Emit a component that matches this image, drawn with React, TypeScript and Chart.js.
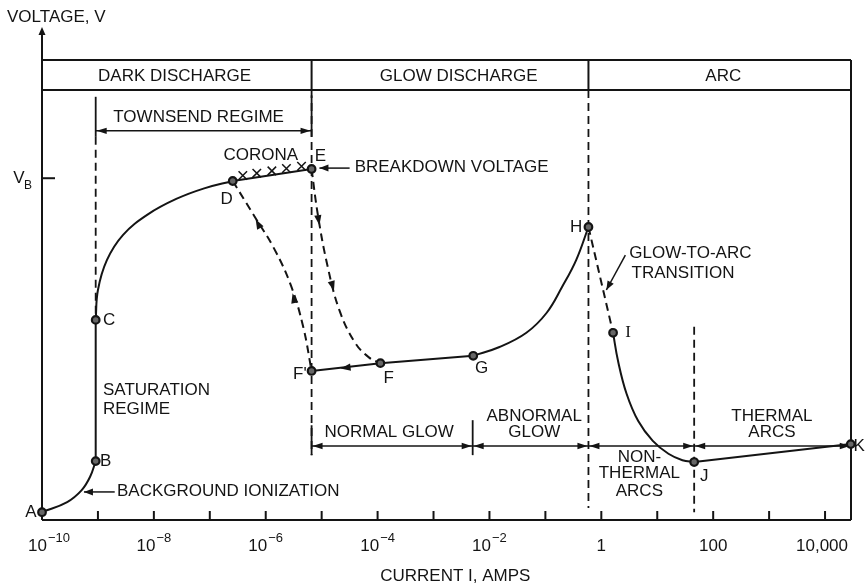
import React, { useEffect, useRef } from 'react';
import { Chart, registerables } from 'chart.js';

Chart.register(...registerables);

const INK = '#141414';
const FONT = '17px "Liberation Sans", Arial, sans-serif';
const SERIF_FONT = '17px "Liberation Serif", serif';
const EXP_FONT = '13px "Liberation Sans", Arial, sans-serif';
const SUB_FONT = '12px "Liberation Sans", Arial, sans-serif';

// x: log10(current I, amps); y: voltage in arbitrary units (0..100)
const LOG_I_MIN = -10;
const LOG_I_MAX = 4.464;
const V_MAX = 100;
const V_B = 74.3;
const HEADER_V = 93.5;

const TICK_DECADES = [-9, -8, -7, -6, -5, -4, -3, -2, -1, 0, 1, 2, 3, 4];
const LABEL_DECADES = [-10, -8, -6, -4, -2, 0, 2, 4];
const LABEL_BASES = ['10', '10', '10', '10', '10', '1', '100', '10,000'];
const LABEL_EXPONENTS = ['\u221210', '\u22128', '\u22126', '\u22124', '\u22122', '', '', ''];

// Header regions
const HEADER_NAMES = ['DARK DISCHARGE', 'GLOW DISCHARGE', 'ARC'];
const HEADER_BOUNDS = [-5.18, -0.23];
const HEADER_TEXT_LOG_I = [-7.63, -2.55, 2.18];
const HEADER_TEXT_V = 96.5;

// Named points
const POINT_NAMES = ['A', 'B', 'C', 'D', 'E', "F'", 'F', 'G', 'H', 'I', 'J', 'K'];
const POINT_LOG_I = [-10, -9.04, -9.04, -6.59, -5.18, -5.18, -3.95, -2.29, -0.23, 0.21, 1.66, 4.46];
const POINT_V = [1.7, 12.8, 43.5, 73.7, 76.3, 32.4, 34.1, 35.7, 63.7, 40.7, 12.6, 16.5];
const POINT_LABEL_LOG_I = [-10.2, -8.86, -8.8, -6.7, -5.02, -5.39, -3.8, -2.14, -0.45, 0.48, 1.84, 4.61];
const POINT_LABEL_V = [1.7, 12.8, 43.5, 69.8, 79.1, 31.7, 30.9, 33.0, 63.7, 40.7, 9.4, 16.1];

// Curve segments
const AB_LOG_I = [-10, -9.55, -9.29, -9.14, -9.04];
const AB_V = [1.7, 3.9, 6.5, 9.4, 12.8];
const BC_LOG_I = [-9.04, -9.04];
const BC_V = [12.8, 43.5];
const CD_LOG_I = [-9.04, -9.0, -8.84, -8.55, -8.1, -7.6, -7.1, -6.59];
const CD_V = [43.5, 50.0, 56.5, 62.0, 66.5, 69.8, 72.1, 73.7];
const DE_LOG_I = [-6.59, -5.18];
const DE_V = [73.7, 76.3];
const CORONA_LOG_I = [-6.41, -6.16, -5.89, -5.63, -5.36];
const CORONA_V = [74.9, 75.4, 75.9, 76.4, 76.9];
const EF_LOG_I = [-5.18, -5.07, -4.9, -4.68, -4.4, -4.15, -3.95];
const EF_V = [76.3, 66.5, 55.5, 45.5, 38.5, 35.3, 34.1];
const DFP_LOG_I = [-6.59, -6.2, -5.85, -5.55, -5.33, -5.18];
const DFP_V = [73.7, 66.0, 59.0, 51.0, 42.0, 32.4];
const FPG_LOG_I = [-5.18, -3.95, -2.29];
const FPG_V = [32.4, 34.1, 35.7];
const GH_LOG_I = [-2.29, -1.82, -1.34, -0.98, -0.7, -0.45, -0.23];
const GH_V = [35.7, 37.6, 40.7, 45.0, 50.7, 56.5, 63.7];
const HI_LOG_I = [-0.23, 0.21];
const HI_V = [63.7, 40.7];
const IJ_LOG_I = [0.21, 0.3, 0.45, 0.66, 0.92, 1.2, 1.45, 1.66];
const IJ_V = [40.7, 34.5, 27.5, 21.5, 17.2, 14.4, 13.0, 12.6];
const JK_LOG_I = [1.66, 4.46];
const JK_V = [12.6, 16.5];

// Guides: [logI, vTop, vBottom]
const DASHED_VERTICALS = [
  [-9.04, 83.3, 43.5],
  [-5.18, HEADER_V, 14.1],
  [-0.23, HEADER_V, 2.6],
  [1.66, 42.0, 1.7],
];
const SOLID_VERTICALS = [
  [-9.04, 92.0, 83.3],
  [-5.18, 92.3, 83.3],
  [-5.18, 20.6, 14.1],
  [-2.3, 21.7, 14.1],
];

// Dimension lines
const TOWNSEND_V = 84.6;
const TOWNSEND_BOUNDS = [-9.04, -5.18];
const REGIME_V = 16.1;
const REGIME_BOUNDS = [-5.18, -2.3, -0.23, 1.66, 4.46];

// Arrows along curves / leaders: [fromLogI, fromV, toLogI, toV]
const CURVE_ARROWS = [
  [-5.1, 68.5, -5.04, 64.1],
  [-4.86, 53.2, -4.78, 49.8],
  [-5.45, 45.6, -5.52, 49.3],
  [-6.05, 62.4, -6.18, 65.4],
  [-4.464, 33.26, -4.661, 32.93],
];
const LEADERS = [
  [-8.7, 6.1, -9.25, 6.1],
  [-4.5, 76.5, -5.04, 76.5],
  [0.43, 57.6, 0.09, 50.0],
];

// Free text: [text, logI, v, align]
const TEXTS: [string, number, number, CanvasTextAlign][] = [
  ['TOWNSEND REGIME', -7.2, 87.6, 'center'],
  ['CORONA', -6.09, 79.35, 'center'],
  ['BREAKDOWN VOLTAGE', -4.41, 76.7, 'left'],
  ['SATURATION', -8.91, 28.3, 'left'],
  ['REGIME', -8.91, 24.1, 'left'],
  ['BACKGROUND IONIZATION', -8.66, 6.3, 'left'],
  ['NORMAL GLOW', -4.95, 19.1, 'left'],
  ['ABNORMAL', -1.2, 22.6, 'center'],
  ['GLOW', -1.2, 19.1, 'center'],
  ['THERMAL', 3.05, 22.6, 'center'],
  ['ARCS', 3.05, 19.1, 'center'],
  ['NON-', 0.68, 13.7, 'center'],
  ['THERMAL', 0.68, 10.2, 'center'],
  ['ARCS', 0.68, 6.3, 'center'],
  ['GLOW-TO-ARC', 0.5, 57.9, 'left'],
  ['TRANSITION', 0.54, 53.6, 'left'],
];

const amps = (lx: number) => Math.pow(10, lx);
const pts = (lxs: number[], vs: number[]) => lxs.map((lx, i) => ({ x: amps(lx), y: vs[i] }));

function seg(ctx: CanvasRenderingContext2D, x1: number, y1: number, x2: number, y2: number) {
  ctx.beginPath();
  ctx.moveTo(x1, y1);
  ctx.lineTo(x2, y2);
  ctx.stroke();
}

function head(ctx: CanvasRenderingContext2D, fx: number, fy: number, tx: number, ty: number, len = 9, half = 3.5) {
  const a = Math.atan2(ty - fy, tx - fx);
  const c = Math.cos(a);
  const s = Math.sin(a);
  ctx.beginPath();
  ctx.moveTo(tx, ty);
  ctx.lineTo(tx - len * c + half * s, ty - len * s - half * c);
  ctx.lineTo(tx - len * c - half * s, ty - len * s + half * c);
  ctx.closePath();
  ctx.fill();
}

const overlay = {
  id: 'overlay',
  beforeDatasetsDraw(chart: any) {
    const { ctx, chartArea: a } = chart;
    const X = (lx: number) => chart.scales.x.getPixelForValue(amps(lx));
    const Y = (v: number) => chart.scales.y.getPixelForValue(v);
    ctx.save();
    ctx.strokeStyle = INK;
    ctx.fillStyle = INK;
    ctx.lineWidth = 2;
    // frame and axes
    seg(ctx, a.left, a.bottom, a.right, a.bottom);
    seg(ctx, a.left, a.bottom, a.left, a.top - 28);
    head(ctx, a.left, a.top, a.left, a.top - 33, 8, 3.5);
    seg(ctx, a.left, a.top, a.right, a.top);
    seg(ctx, a.right, a.top, a.right, a.bottom);
    seg(ctx, a.left, Y(HEADER_V), a.right, Y(HEADER_V));
    HEADER_BOUNDS.forEach((b) => seg(ctx, X(b), a.top, X(b), Y(HEADER_V)));
    // x ticks (inside)
    TICK_DECADES.forEach((k) => seg(ctx, X(k), a.bottom, X(k), a.bottom - 9));
    // V_B tick
    seg(ctx, a.left, Y(V_B), a.left + 13, Y(V_B));
    // dashed guides
    ctx.lineWidth = 1.8;
    ctx.setLineDash([8, 5]);
    DASHED_VERTICALS.forEach(([lx, t, b]) => seg(ctx, X(lx), Y(t), X(lx), Y(b)));
    ctx.setLineDash([]);
    SOLID_VERTICALS.forEach(([lx, t, b]) => seg(ctx, X(lx), Y(t), X(lx), Y(b)));
    // dimension lines
    ctx.lineWidth = 1.5;
    const dim = (bounds: number[], v: number) => {
      seg(ctx, X(bounds[0]), Y(v), X(bounds[bounds.length - 1]), Y(v));
      for (let i = 0; i < bounds.length - 1; i++) {
        const l = X(bounds[i]);
        const r = X(bounds[i + 1]);
        head(ctx, l + 12, Y(v), l + 1, Y(v), 10, 3.2);
        head(ctx, r - 12, Y(v), r - 1, Y(v), 10, 3.2);
      }
    };
    dim(TOWNSEND_BOUNDS, TOWNSEND_V);
    dim(REGIME_BOUNDS, REGIME_V);
    // leaders
    LEADERS.forEach(([fl, fv, tl, tv]) => {
      seg(ctx, X(fl), Y(fv), X(tl), Y(tv));
      head(ctx, X(fl), Y(fv), X(tl), Y(tv), 9, 3.5);
    });
    ctx.restore();
  },
  afterDatasetsDraw(chart: any) {
    const { ctx, chartArea: a } = chart;
    const X = (lx: number) => chart.scales.x.getPixelForValue(amps(lx));
    const Y = (v: number) => chart.scales.y.getPixelForValue(v);
    ctx.save();
    ctx.fillStyle = INK;
    CURVE_ARROWS.forEach(([fl, fv, tl, tv]) => head(ctx, X(fl), Y(fv), X(tl), Y(tv), 10, 3.6));
    ctx.textBaseline = 'middle';
    const txt = (s: string, x: number, y: number, align: CanvasTextAlign, font = FONT) => {
      ctx.font = font;
      ctx.textAlign = align;
      ctx.fillText(s, x, y);
    };
    HEADER_NAMES.forEach((n, i) => txt(n, X(HEADER_TEXT_LOG_I[i]), Y(HEADER_TEXT_V), 'center'));
    POINT_NAMES.forEach((n, i) =>
      txt(n, X(POINT_LABEL_LOG_I[i]), Y(POINT_LABEL_V[i]), 'center', n === 'I' ? SERIF_FONT : FONT)
    );
    TEXTS.forEach(([s, lx, v, al]) => txt(s, X(lx), Y(v), al));
    // y axis
    txt('VOLTAGE, V', a.left - 35, a.top - 43, 'left');
    txt('V', a.left - 23, Y(V_B), 'center');
    txt('B', a.left - 14, Y(V_B) + 7, 'center', SUB_FONT);
    // x tick labels
    LABEL_DECADES.forEach((k, i) => {
      ctx.font = FONT;
      const wb = ctx.measureText(LABEL_BASES[i]).width;
      ctx.font = EXP_FONT;
      const we = LABEL_EXPONENTS[i] ? ctx.measureText(LABEL_EXPONENTS[i]).width + 1 : 0;
      let x0 = X(k) - (wb + we) / 2;
      if (x0 < a.left - 14) x0 = a.left - 14;
      if (x0 + wb + we > a.right - 3) x0 = a.right - 3 - wb - we;
      txt(LABEL_BASES[i], x0, a.bottom + 26, 'left');
      if (we) txt(LABEL_EXPONENTS[i], x0 + wb + 1, a.bottom + 18, 'left', EXP_FONT);
    });
    txt('CURRENT I, AMPS', X(-2.61), a.bottom + 56, 'center');
    ctx.restore();
  },
};

const line = (data: any[], dashed = false, curved = true) => ({
  data,
  borderColor: INK,
  borderWidth: 2,
  borderDash: dashed ? [8, 5] : [],
  pointRadius: 0,
  fill: false,
  tension: curved ? 0.4 : 0,
  cubicInterpolationMode: 'default',
  order: 2,
  clip: false,
});

export default function App() {
  const ref = useRef<HTMLCanvasElement>(null);
  useEffect(() => {
    document.body.style.margin = '0';
    const chart = new Chart(ref.current as HTMLCanvasElement, {
      type: 'line',
      data: {
        datasets: [
          {
            data: pts(POINT_LOG_I, POINT_V),
            showLine: false,
            pointRadius: 3.8,
            pointBorderWidth: 2.2,
            pointBorderColor: INK,
            pointBackgroundColor: '#666',
            order: 0,
            clip: false,
          } as any,
          {
            data: pts(CORONA_LOG_I, CORONA_V),
            showLine: false,
            pointStyle: 'crossRot',
            pointRadius: 6,
            pointBorderWidth: 1.5,
            pointBorderColor: INK,
            order: 1,
            clip: false,
          } as any,
          line(pts(AB_LOG_I, AB_V)),
          line(pts(BC_LOG_I, BC_V), false, false),
          line(pts(CD_LOG_I, CD_V)),
          line(pts(DE_LOG_I, DE_V), false, false),
          line(pts(EF_LOG_I, EF_V), true),
          line(pts(DFP_LOG_I, DFP_V), true),
          line(pts(FPG_LOG_I, FPG_V), false, false),
          line(pts(GH_LOG_I, GH_V)),
          line(pts(HI_LOG_I, HI_V), true, false),
          line(pts(IJ_LOG_I, IJ_V)),
          line(pts(JK_LOG_I, JK_V), false, false),
        ],
      },
      options: {
        responsive: false,
        maintainAspectRatio: false,
        animation: false,
        events: [],
        layout: { padding: { left: 42, right: 17, top: 60, bottom: 64 } },
        plugins: { legend: { display: false }, tooltip: { enabled: false } },
        scales: {
          x: { type: 'logarithmic', display: false, min: amps(LOG_I_MIN), max: amps(LOG_I_MAX) },
          y: { type: 'linear', display: false, min: 0, max: V_MAX },
        },
      } as any,
      plugins: [overlay],
    });
    return () => chart.destroy();
  }, []);
  return (
    <div style={{ width: 868, height: 584, background: '#fff' }}>
      <canvas ref={ref} width={868} height={584} />
    </div>
  );
}
